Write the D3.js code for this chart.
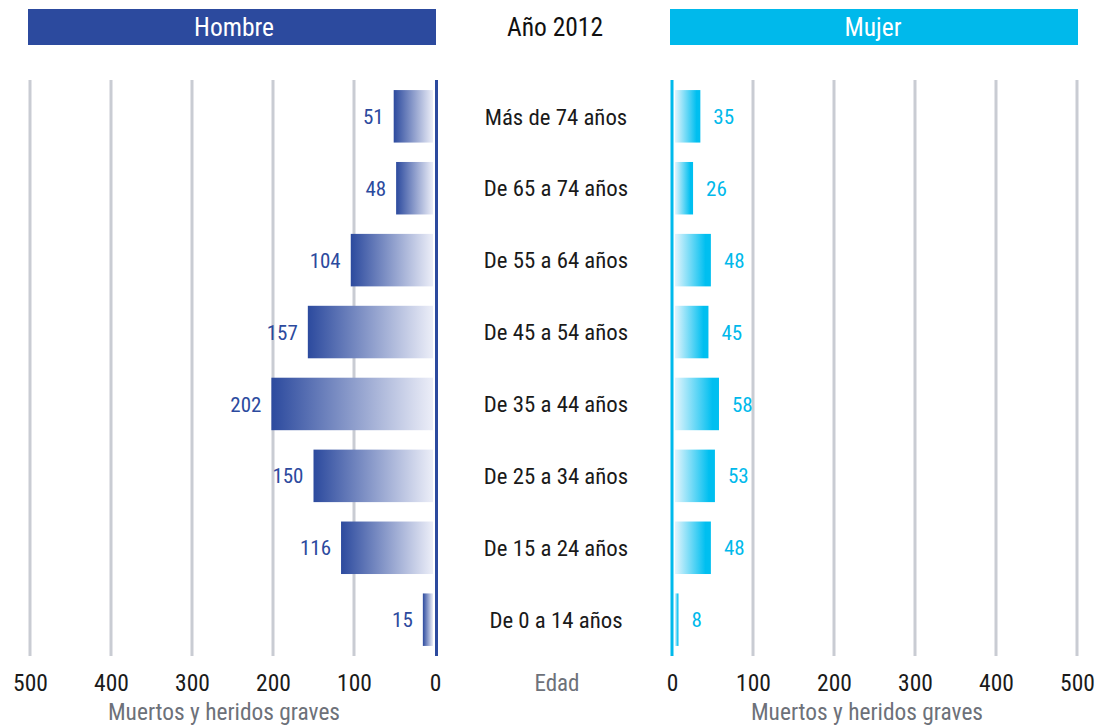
<!DOCTYPE html>
<html><head><meta charset="utf-8">
<script src="https://cdn.jsdelivr.net/npm/d3@7"></script>
<style>
body{margin:0;background:#fff;}
text{font-family:"Liberation Sans Narrow","Arial Narrow","Roboto Condensed","Liberation Sans",sans-serif;}
</style></head>
<body><svg id="c" width="1097" height="726"></svg>
<script>
const categories = ["Más de 74 años","De 65 a 74 años","De 55 a 64 años","De 45 a 54 años","De 35 a 44 años","De 25 a 34 años","De 15 a 24 años","De 0 a 14 años"];
const hombre = [51,48,104,157,202,150,116,15];
const mujer = [35,26,48,45,58,53,48,8];
const ticks = [0,100,200,300,400,500];

const svg = d3.select("#c");
const blue = "#2c4a9e", cyan = "#00b9eb", grid = "#c9ccd3";
const defs = svg.append("defs");
const gl = defs.append("linearGradient").attr("id","gL");
gl.append("stop").attr("offset",0).attr("stop-color","#2c4a9e");
gl.append("stop").attr("offset",1).attr("stop-color","#eceef8");
const gr = defs.append("linearGradient").attr("id","gR");
gr.append("stop").attr("offset",0).attr("stop-color","#e4f5fd");
gr.append("stop").attr("offset",0.85).attr("stop-color","#00bff0");
gr.append("stop").attr("offset",1).attr("stop-color","#00bff0");

const xL = d3.scaleLinear().domain([0,500]).range([435,30]);
const xR = d3.scaleLinear().domain([0,500]).range([672,1077]);
const y = d3.scaleBand().domain(categories).range([80,656]).paddingInner(0.27).paddingOuter(0.14);

// headers
svg.append("rect").attr("x",28).attr("y",9).attr("width",408).attr("height",36).attr("fill",blue);
svg.append("rect").attr("x",670).attr("y",9).attr("width",408).attr("height",36).attr("fill",cyan);
svg.append("text").attr("x",234).attr("y",27).attr("dy","0.36em").attr("text-anchor","middle").attr("fill","#fff").attr("font-size",25.5).text("Hombre");
svg.append("text").attr("x",873).attr("y",27).attr("dy","0.36em").attr("text-anchor","middle").attr("fill","#fff").attr("font-size",25.5).text("Mujer");
svg.append("text").attr("x",555).attr("y",27).attr("dy","0.36em").attr("text-anchor","middle").attr("fill","#111").attr("font-size",25.5).text("Año 2012");

// gridlines
svg.append("g").selectAll("line").data(ticks.filter(t=>t>0)).join("line")
  .attr("x1",d=>xL(d)).attr("x2",d=>xL(d)).attr("y1",80).attr("y2",656)
  .attr("stroke",grid).attr("stroke-width",3);
svg.append("g").selectAll("line").data(ticks.filter(t=>t>0)).join("line")
  .attr("x1",d=>xR(d)).attr("x2",d=>xR(d)).attr("y1",80).attr("y2",656)
  .attr("stroke",grid).attr("stroke-width",3);

// bars
svg.append("g").selectAll("rect").data(hombre).join("rect")
  .attr("x",d=>xL(d)).attr("y",(d,i)=>y(categories[i]))
  .attr("width",d=>xL(0)-2-xL(d)).attr("height",y.bandwidth()).attr("fill","url(#gL)");
svg.append("g").selectAll("rect").data(mujer).join("rect")
  .attr("x",xR(0)+3).attr("y",(d,i)=>y(categories[i]))
  .attr("width",d=>xR(d)-xR(0)-3).attr("height",y.bandwidth()).attr("fill","url(#gR)");

// axis lines
svg.append("line").attr("x1",436.5).attr("x2",436.5).attr("y1",80).attr("y2",656).attr("stroke",blue).attr("stroke-width",3);
svg.append("line").attr("x1",672).attr("x2",672).attr("y1",80).attr("y2",656).attr("stroke",cyan).attr("stroke-width",3);

// value labels
svg.append("g").selectAll("text").data(hombre).join("text")
  .attr("x",d=>xL(d)-10).attr("y",(d,i)=>y(categories[i])+y.bandwidth()/2).attr("dy","0.36em")
  .attr("text-anchor","end").attr("fill",blue).attr("font-size",21).text(d=>d);
svg.append("g").selectAll("text").data(mujer).join("text")
  .attr("x",d=>xR(d)+13).attr("y",(d,i)=>y(categories[i])+y.bandwidth()/2).attr("dy","0.36em")
  .attr("text-anchor","start").attr("fill",cyan).attr("font-size",21).text(d=>d);

// category labels
svg.append("g").selectAll("text").data(categories).join("text")
  .attr("x",556).attr("y",d=>y(d)+y.bandwidth()/2).attr("dy","0.36em")
  .attr("text-anchor","middle").attr("fill","#1a1a1a").attr("font-size",22.8).text(d=>d);

// tick labels
const axL = svg.append("g").attr("transform","translate(0,683)").call(d3.axisBottom(xL).tickValues(ticks).tickSize(0).tickPadding(0));
const axR = svg.append("g").attr("transform","translate(0,683)").call(d3.axisBottom(xR).tickValues(ticks).tickSize(0).tickPadding(0));
[axL,axR].forEach(a=>{
  a.select(".domain").remove();
  a.selectAll("text").attr("dy","0.36em").attr("y",0).attr("font-size",23.5).attr("fill","#1a1a1a")
   .attr("font-family",null);
});
svg.append("text").attr("x",557).attr("y",683).attr("dy","0.36em").attr("text-anchor","middle").attr("fill","#6d7179").attr("font-size",23).text("Edad");
svg.append("text").attr("x",224).attr("y",712).attr("dy","0.36em").attr("text-anchor","middle").attr("fill","#6d7179").attr("font-size",23.4).text("Muertos y heridos graves");
svg.append("text").attr("x",867).attr("y",712).attr("dy","0.36em").attr("text-anchor","middle").attr("fill","#6d7179").attr("font-size",23.4).text("Muertos y heridos graves");
</script></body></html>
